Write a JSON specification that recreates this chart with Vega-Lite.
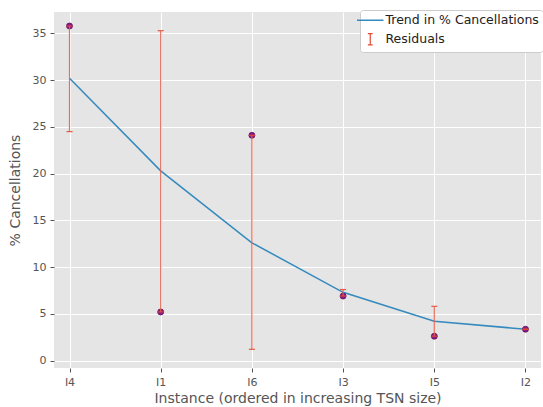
{
  "$schema": "https://vega.github.io/schema/vega-lite/v6.json",
  "width": 543,
  "height": 407,
  "autosize": {"type": "fit", "contains": "padding"},
  "padding": {"left": 8, "top": 12, "right": 2, "bottom": 2},
  "background": "white",
  "config": {
    "font": "DejaVu Sans",
    "view": {"fill": "#E5E5E5", "stroke": null},
    "axis": {
      "domain": false,
      "grid": true,
      "gridColor": "white",
      "gridWidth": 1,
      "tickColor": "#555555",
      "tickSize": 4,
      "labelColor": "#555555",
      "labelFontSize": 11,
      "titleColor": "#555555",
      "titleFontSize": 14,
      "titleFontWeight": "normal"
    }
  },
  "data": {
    "values": [
      {"instance": "I4", "value": 35.8, "trend": 30.2, "lo": 24.5, "hi": 35.8, "s1": "Trend in % Cancellations", "s2": "Residuals"},
      {"instance": "I1", "value": 5.2, "trend": 20.3, "lo": 5.2, "hi": 35.3, "s1": "Trend in % Cancellations", "s2": "Residuals"},
      {"instance": "I6", "value": 24.1, "trend": 12.6, "lo": 1.2, "hi": 24.1, "s1": "Trend in % Cancellations", "s2": "Residuals"},
      {"instance": "I3", "value": 6.9, "trend": 7.3, "lo": 6.9, "hi": 7.6, "s1": "Trend in % Cancellations", "s2": "Residuals"},
      {"instance": "I5", "value": 2.6, "trend": 4.2, "lo": 2.6, "hi": 5.8, "s1": "Trend in % Cancellations", "s2": "Residuals"},
      {"instance": "I2", "value": 3.35, "trend": 3.35, "lo": 3.35, "hi": 3.35, "s1": "Trend in % Cancellations", "s2": "Residuals"}
    ]
  },
  "encoding": {
    "x": {
      "field": "instance",
      "type": "ordinal",
      "sort": ["I4", "I1", "I6", "I3", "I5", "I2"],
      "scale": {"type": "point", "padding": 0.17},
      "axis": {"title": "Instance (ordered in increasing TSN size)", "labelAngle": 0, "labelPadding": 4, "titlePadding": 4}
    }
  },
  "layer": [
    {
      "mark": {"type": "line", "strokeWidth": 1.5},
      "encoding": {
        "y": {
          "field": "trend",
          "type": "quantitative",
          "scale": {"domain": [-0.8, 37.3], "nice": false, "zero": false},
          "axis": {"title": "% Cancellations", "values": [0, 5, 10, 15, 20, 25, 30, 35], "labelPadding": 4, "titlePadding": 10}
        },
        "color": {
          "field": "s1",
          "type": "nominal",
          "scale": {"domain": ["Trend in % Cancellations", "Residuals"], "range": ["#348ABD", "#E24A33"]},
          "legend": {
            "title": null,
            "orient": "top-right",
            "offset": -2,
            "fillColor": "white",
            "strokeColor": "#CCCCCC",
            "cornerRadius": 3,
            "padding": 4,
            "labelFontSize": 12.5,
            "labelColor": "#222222",
            "labelOffset": 9,
            "symbolSize": 700,
            "symbolStrokeWidth": 1.5,
            "rowPadding": 4,
            "encode": {
              "symbols": {
                "update": {
                  "shape": {"signal": "datum.value === 'Residuals' ? 'M0,-0.42L0,0.42M-0.18,-0.42L0.18,-0.42M-0.18,0.42L0.18,0.42' : 'stroke'"},
                  "strokeWidth": {"signal": "datum.value === 'Residuals' ? 1.2 : 1.5"}
                }
              }
            }
          }
        }
      }
    },
    {
      "mark": {"type": "point", "filled": true, "size": 36, "color": "#8B1A89", "stroke": "#5a0f5a", "strokeWidth": 0.8, "opacity": 1},
      "encoding": {"y": {"field": "value", "type": "quantitative"}}
    },
    {
      "mark": {"type": "rule", "color": "#E8604A", "opacity": 0.9, "strokeWidth": 1.2},
      "encoding": {
        "y": {"field": "lo", "type": "quantitative"},
        "y2": {"field": "hi"}
      }
    },
    {
      "mark": {"type": "tick", "color": "#E24A33", "size": 6, "thickness": 1.2, "orient": "horizontal", "opacity": 0.9},
      "encoding": {"y": {"field": "lo", "type": "quantitative"}}
    },
    {
      "mark": {"type": "tick", "color": "#E24A33", "size": 6, "thickness": 1.2, "orient": "horizontal", "opacity": 0.9},
      "encoding": {"y": {"field": "hi", "type": "quantitative"}}
    }
  ]
}
